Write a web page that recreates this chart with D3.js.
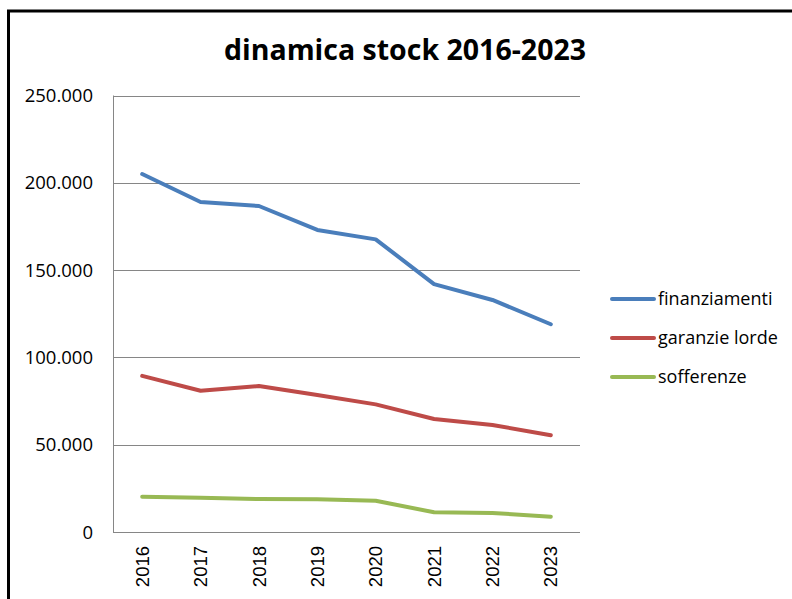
<!DOCTYPE html>
<html>
<head>
<meta charset="utf-8">
<script src="https://cdn.jsdelivr.net/npm/d3@7"></script>
<style>
  body { margin: 0; background: #fff; }
  svg { display: block; }
</style>
</head>
<body>
<div id="chart"></div>
<script>
// --------- data ---------
const years = ['2016', '2017', '2018', '2019', '2020', '2021', '2022', '2023'];
const finanziamenti = [205000, 189000, 186700, 173000, 167600, 142000, 132900, 119000];
const garanzieLorde = [89400, 80900, 83600, 78500, 73100, 64700, 61300, 55400];
const sofferenze = [20200, 19600, 18900, 18700, 17900, 11300, 10900, 8800];
const yTicks = [0, 50000, 100000, 150000, 200000, 250000];
const seriesNames = ['finanziamenti', 'garanzie lorde', 'sofferenze'];
const seriesColors = ['#4a7ebb', '#be4b48', '#98b954'];

const width = 792, height = 599;
const plot = { left: 113, right: 580, top: 95.5, bottom: 532 };
const calibri = '"Open Sans", "Noto Sans", sans-serif';

const svg = d3.select('#chart').append('svg')
    .attr('width', width)
    .attr('height', height);

svg.append('rect').attr('width', width).attr('height', height).attr('fill', '#fff');

// outer frame (only top and left edges are visible in the crop)
svg.append('path')
    .attr('d', `M8.5,${height} V11 H${width}`)
    .attr('fill', 'none')
    .attr('stroke', '#000')
    .attr('stroke-width', 3);

// scales
const x = d3.scaleBand().domain(years).range([plot.left, plot.right]);
const cx = d => x(d) + x.bandwidth() / 2;
const y = d3.scaleLinear().domain([0, 250000]).range([plot.bottom, plot.top]);

const fmt = v => v === 0 ? '0' : d3.format(',')(v).replace(/,/g, '.');

// gridlines
svg.append('g')
    .selectAll('line')
    .data(yTicks.filter(t => t > 0))
    .enter().append('line')
    .attr('x1', plot.left).attr('x2', plot.right)
    .attr('y1', d => Math.round(y(d)) + 0.5)
    .attr('y2', d => Math.round(y(d)) + 0.5)
    .attr('stroke', '#868686')
    .attr('stroke-width', 1);

// axes lines
svg.append('line')
    .attr('x1', plot.left + 0.5).attr('x2', plot.left + 0.5)
    .attr('y1', plot.top).attr('y2', plot.bottom)
    .attr('stroke', '#868686');
svg.append('line')
    .attr('x1', plot.left).attr('x2', plot.right)
    .attr('y1', plot.bottom + 0.5).attr('y2', plot.bottom + 0.5)
    .attr('stroke', '#868686');

// y labels
svg.append('g')
    .selectAll('text')
    .data(yTicks)
    .enter().append('text')
    .attr('x', 93)
    .attr('y', d => y(d))
    .attr('dy', '0.36em')
    .attr('text-anchor', 'end')
    .attr('font-family', calibri)
    .attr('font-size', 18.5)
    .attr('fill', '#000')
    .text(fmt);

// x labels (rotated)
svg.append('g')
    .selectAll('text')
    .data(years)
    .enter().append('text')
    .attr('transform', d => `translate(${cx(d)},546) rotate(-90)`)
    .attr('dy', '0.36em')
    .attr('text-anchor', 'end')
    .attr('font-family', '"Liberation Sans", Arial, sans-serif')
    .attr('font-size', 18.5)
    .attr('fill', '#000')
    .text(d => d);

// lines
const line = d3.line()
    .x((d, i) => cx(years[i]))
    .y(d => y(d));

[finanziamenti, garanzieLorde, sofferenze].forEach((vals, i) => {
    svg.append('path')
        .datum(vals)
        .attr('d', line)
        .attr('fill', 'none')
        .attr('stroke', seriesColors[i])
        .attr('stroke-width', 4)
        .attr('stroke-linejoin', 'round')
        .attr('stroke-linecap', 'round');
});

// title
svg.append('text')
    .attr('x', 405)
    .attr('y', 60)
    .attr('text-anchor', 'middle')
    .attr('font-family', calibri)
    .attr('font-weight', 'bold')
    .attr('font-size', 28.5)
    .attr('fill', '#000')
    .text('dinamica stock 2016-2023');

// legend
const legend = svg.append('g')
    .selectAll('g')
    .data(seriesNames)
    .enter().append('g')
    .attr('transform', (d, i) => `translate(0,${299 + i * 39})`);

legend.append('line')
    .attr('x1', 612).attr('x2', 654)
    .attr('stroke', (d, i) => seriesColors[i])
    .attr('stroke-width', 4)
    .attr('stroke-linecap', 'round');

legend.append('text')
    .attr('x', 658)
    .attr('dy', '0.35em')
    .attr('font-family', calibri)
    .attr('font-size', 18)
    .attr('fill', '#000')
    .text(d => d);
</script>
</body>
</html>
